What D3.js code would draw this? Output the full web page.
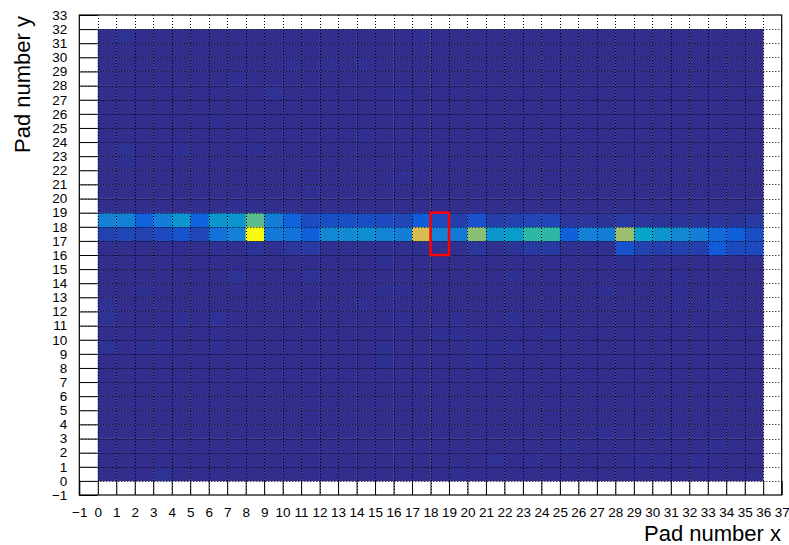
<!DOCTYPE html>
<html>
<head>
<meta charset="utf-8">
<script src="https://cdn.jsdelivr.net/npm/d3@7"></script>
<style>
  body { margin: 0; background: #fff; }
  text { font-family: "Liberation Sans", Arial, Helvetica, sans-serif; }
</style>
</head>
<body>
<svg id="chart" width="789" height="545"></svg>
<script>
// pad indices
var padsX = d3.range(0, 36);
var padsY = d3.range(0, 32);
var xTicks = d3.range(-1, 38);
var yTicks = d3.range(-1, 34);

// signal rows (relative amplitude, max = 100)
var row16 = [1,1,1,1,1,1,1.5,1.5,2.5,1.5,3,4,1.5,1.5,1.5,1.5,1.5,1.5,1.5,1.5,3,1.5,2.5,4,4,1.5,1.5,1.5,10,6,5,6,5,12,8,8];
var row17 = [6,7,6,8,10,7,20,25,100,22,20,14,27,28,30,26,24,77,26,22,63,33,35,50,50,14,25,24,66,38,32,27,24,17,14,9];
var row18 = [25,25,15,24,32,15,33,32,56,24,15,8,9,9,9,8,7,13,8,5,10,5,6,7,7,3,3,2.5,4,3,2.5,2.5,2.5,3,2.5,4];
var row19 = [1,1,1,1,1,1,1,1.5,1.5,1,1,1,1,1,1,1,1,1,1,1,1,1,1,1,1,1,1,1,1,1,1,1,1,1,1,1];
var noiseLevel = 0.8;
// faint pads elsewhere [x, y, value]
var faint = [
  [1,31,2],[17,31,1.6],[10,29,1.6],[12,29,1.6],[14,29,1.6],[7,28,1.6],[9,27,2],[16,27,1.6],
  [6,25,1.6],[14,24,1.6],[1,23,2],[4,23,1.6],[8,23,1.6],[1,22,1.6],[17,22,1.6],[16,21,1.6],
  [11,20,1.6],[15,15,1.6],[28,15,1.6],[29,15,1.6],[7,14,2],[11,14,2],
  [22,14,1.6],[31,14,1.6],[2,13,1.6],[15,13,1.6],[16,13,1.6],[27,13,1.6],[31,13,1.6],[0,12,2],
  [14,12,1.6],[31,12,1.6],[33,12,1.6],[0,11,2],[4,11,1.6],[6,11,2],[16,11,1.6],[19,11,1.6],
  [22,11,1.6],[18,10,1.6],[19,10,1.6],[24,10,1.6],[0,9,2],[2,9,1.6],[3,9,1.6],[6,9,1.6],
  [15,9,1.6],[20,9,1.6],[21,9,1.6],[22,9,1.6],[15,8,1.6],[20,8,1.6],[27,3,1.6],[30,3,1.6],
  [25,2,1.6],[33,2,1.6],[21,1,2],[23,1,1.6],[29,1,1.6],[30,1,1.6],[32,1,1.6],[3,0,2],[19,0,1.6]
];
// highlighted region
var boxX = [18, 19];
var boxY = [16, 19];

// kBird palette
var birdStops = [0, 0.125, 0.25, 0.375, 0.5, 0.625, 0.75, 0.875, 1];
var birdColors = ["#352a87", "#0f5cdd", "#1481d6", "#06a4ca", "#2eb7a4", "#87bf77", "#d1bb59", "#fec832", "#f9fb0e"];

var cells = [];
padsY.forEach(function(py) {
  padsX.forEach(function(px) {
    var v = noiseLevel;
    if (py === 16) v = row16[px];
    if (py === 17) v = row17[px];
    if (py === 18) v = row18[px];
    if (py === 19) v = row19[px];
    cells.push({x: px, y: py, v: v});
  });
});
faint.forEach(function(f) {
  cells[f[1] * padsX.length + f[0]].v = f[2];
});

var zMax = d3.max(cells, function(d) { return d.v; });
var color = d3.scaleLinear()
  .domain(birdStops.map(function(s) { return s * zMax; }))
  .range(birdColors)
  .interpolate(d3.interpolateRgb);

var x = d3.scaleLinear().domain([-1, 37]).range([79.3, 781.7]);
var y = d3.scaleLinear().domain([-1, 33]).range([495, 15]);

var svg = d3.select("#chart");

svg.append("g").attr("class", "cells")
  .selectAll("rect").data(cells).enter().append("rect")
  .attr("x", function(d) { return x(d.x); })
  .attr("y", function(d) { return y(d.y + 1); })
  .attr("width", function(d) { return x(d.x + 1) - x(d.x) + 0.3; })
  .attr("height", function(d) { return y(d.y) - y(d.y + 1) + 0.3; })
  .attr("fill", function(d) { return color(d.v); });

// dotted grid
var grid = svg.append("g").attr("class", "grid")
  .attr("stroke", "#000").attr("stroke-width", 1).attr("stroke-dasharray", "1,2");
grid.selectAll("line.v").data(xTicks.slice(1, -1)).enter().append("line")
  .attr("class", "v")
  .attr("x1", function(d) { return Math.round(x(d)) + 0.5; })
  .attr("x2", function(d) { return Math.round(x(d)) + 0.5; })
  .attr("y1", y(33)).attr("y2", y(-1));
grid.selectAll("line.h").data(yTicks.slice(1, -1)).enter().append("line")
  .attr("class", "h")
  .attr("y1", function(d) { return Math.round(y(d)) + 0.5; })
  .attr("y2", function(d) { return Math.round(y(d)) + 0.5; })
  .attr("x1", x(-1)).attr("x2", x(37));

// red box
svg.append("rect")
  .attr("x", x(boxX[0]))
  .attr("y", y(boxY[1]))
  .attr("width", x(boxX[1]) - x(boxX[0]))
  .attr("height", y(boxY[0]) - y(boxY[1]))
  .attr("fill", "none")
  .attr("stroke", "#ff0000")
  .attr("stroke-width", 2.5);

// axes
var xAxis = svg.append("g")
  .attr("transform", "translate(0," + y(-1) + ")")
  .call(d3.axisBottom(x).tickValues(xTicks).tickFormat(function(d) { return d < 0 ? "\u2212" + (-d) : d; })
    .tickSizeInner(-14).tickSizeOuter(0).tickPadding(12));
var yAxis = svg.append("g")
  .attr("transform", "translate(" + x(-1) + ",0)")
  .call(d3.axisLeft(y).tickValues(yTicks).tickFormat(function(d) { return d < 0 ? "\u2212" + (-d) : d; })
    .tickSizeInner(-18).tickSizeOuter(0).tickPadding(12));
[xAxis, yAxis].forEach(function(a) {
  a.select(".domain").remove();
  a.selectAll("line").attr("stroke", "#000");
  a.selectAll("text").attr("font-size", 13.5).attr("fill", "#000")
    .attr("font-family", "'Liberation Sans', Arial, sans-serif");
});

// frame
svg.append("rect")
  .attr("x", x(-1)).attr("y", y(33))
  .attr("width", x(37) - x(-1)).attr("height", y(-1) - y(33))
  .attr("fill", "none").attr("stroke", "#000").attr("stroke-width", 1.2);

// axis titles
svg.append("text")
  .attr("x", 781).attr("y", 541)
  .attr("text-anchor", "end").attr("font-size", 22)
  .text("Pad number x");
svg.append("text")
  .attr("transform", "translate(30,16) rotate(-90)")
  .attr("text-anchor", "end").attr("font-size", 22)
  .text("Pad number y");
</script>
</body>
</html>
